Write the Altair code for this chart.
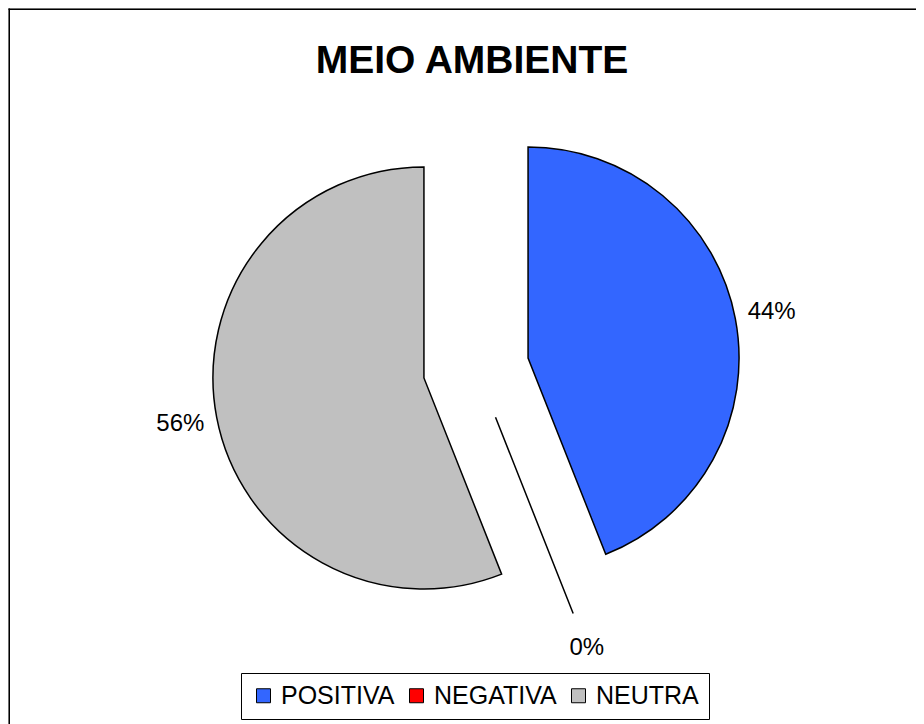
import math
import altair as alt
import pandas as pd

# ---- data ----
CATEGORIES = ["POSITIVA", "NEGATIVA", "NEUTRA"]
VALUES = [44, 0, 56]
COLORS = ["#3366FF", "#FF0000", "#C0C0C0"]
TITLE = "MEIO AMBIENTE"

# ---- layout (pixels, view coordinates) ----
W, H = 908, 716
CX, CY = 468, 360      # pie centre
R = 211                # pie radius
EXPLODE = 53           # slice explosion distance
LABEL_R = 248          # label distance from exploded slice centre
FONT = "Liberation Sans"

total = sum(VALUES)
rows = []
cum = 0
for cat, v in zip(CATEGORIES, VALUES):
    t0 = 2 * math.pi * cum / total
    cum += v
    t1 = 2 * math.pi * cum / total
    mid = (t0 + t1) / 2
    ex = CX + math.sin(mid) * EXPLODE
    ey = CY - math.cos(mid) * EXPLODE
    rows.append({
        "cat": cat, "value": v, "t0": t0, "t1": t1,
        "ex": ex, "ey": ey,
        "lx": ex + math.sin(mid) * LABEL_R,
        "ly": ey - math.cos(mid) * LABEL_R,
        "pct": f"{round(100 * v / total)}%",
    })
df = pd.DataFrame(rows)

legend = alt.Legend(
    orient="none", legendX=233, legendY=665, direction="horizontal",
    title=None, symbolType="square", symbolSize=196,
    symbolStrokeColor="black", symbolStrokeWidth=1, symbolOpacity=1,
    labelFont=FONT, labelFontSize=25, labelColor="black", labelLimit=0,
    labelOffset=5, columnPadding=9, padding=10,
    strokeColor="black", fillColor="white",
)

arcs = alt.Chart(df).mark_arc(
    outerRadius=R, stroke="black", strokeWidth=1.5
).encode(
    theta=alt.Theta("t0:Q", scale=None, stack=None),
    theta2="t1:Q",
    x=alt.X("ex:Q", scale=None),
    y=alt.Y("ey:Q", scale=None),
    color=alt.Color("cat:N", scale=alt.Scale(domain=CATEGORIES, range=COLORS),
                    legend=legend),
)

labels = alt.Chart(df).mark_text(
    font=FONT, fontSize=24, color="black", align="center", baseline="middle"
).encode(
    x=alt.X("lx:Q", scale=None),
    y=alt.Y("ly:Q", scale=None),
    text="pct:N",
)

title = alt.Chart(pd.DataFrame({"t": [TITLE]})).mark_text(
    font=FONT, fontSize=39, fontWeight="bold", color="black",
    align="center", baseline="alphabetic"
).encode(text="t:N", x=alt.value(464), y=alt.value(65))

left_line = alt.Chart(pd.DataFrame({"a": [0]})).mark_rule(
    color="black", strokeWidth=1.5
).encode(x=alt.value(1.25), y=alt.value(0.5), y2=alt.value(H))

top_line = alt.Chart(pd.DataFrame({"a": [0]})).mark_rule(
    color="black", strokeWidth=1.5
).encode(x=alt.value(0.5), x2=alt.value(W), y=alt.value(1.25))

chart = alt.layer(left_line, top_line, arcs, labels, title).properties(
    width=W, height=H, padding=0,
    autosize=alt.AutoSizeParams(type="none"),
).configure_view(stroke=None).configure(background="white")

chart.save("out.html", embed_options={"renderer": "svg", "actions": False})
